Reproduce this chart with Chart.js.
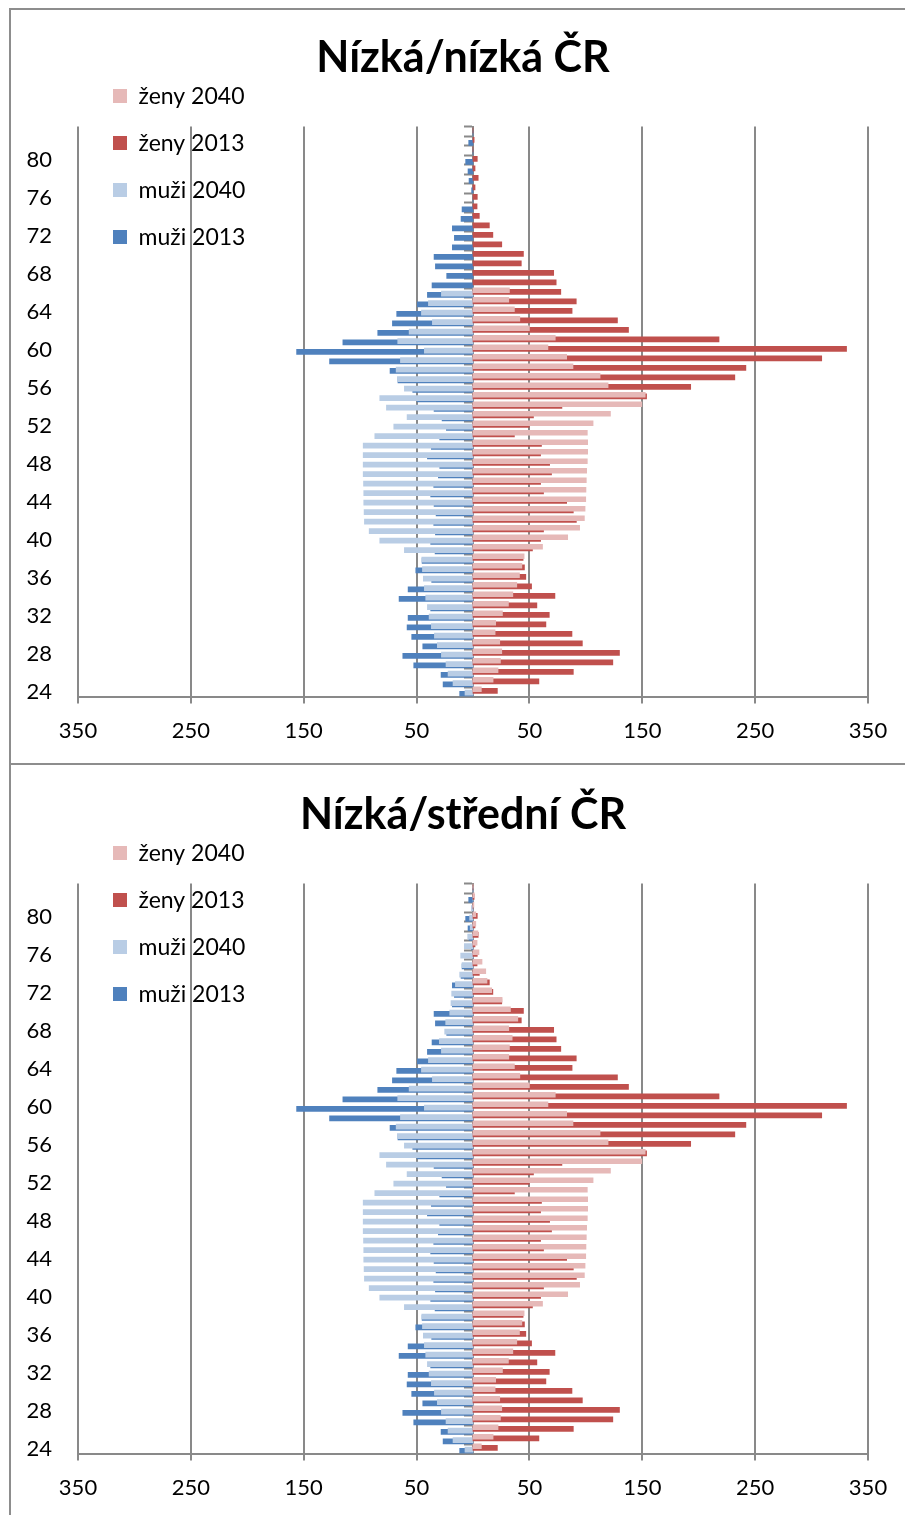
<!DOCTYPE html>
<html>
<head>
<meta charset="utf-8">
<script src="https://cdn.jsdelivr.net/npm/chart.js@4/dist/chart.umd.min.js"></script>
<style>
  html, body { margin: 0; padding: 0; background: #fff; overflow: hidden; }
  .frame { position: absolute; left: 9px; width: 930px; border: 2px solid #8d8d8d; box-sizing: border-box; background: #fff; }
  #frameLow { top: 8px; height: 757px; }
  #frameMid { top: 765px; height: 770px; border-top: none; padding-top: 2px; }
  canvas { display: block; }
</style>
</head>
<body>
<div class="frame" id="frameLow"><canvas id="chartLow" width="904" height="750"></canvas></div>
<div class="frame" id="frameMid"><canvas id="chartMid" width="904" height="750"></canvas></div>
<script>
  'use strict';

  // věk (zdola nahoru)
  const ages = [24, 25, 26, 27, 28, 29, 30, 31, 32, 33, 34, 35, 36, 37, 38, 39, 40, 41, 42, 43,
                44, 45, 46, 47, 48, 49, 50, 51, 52, 53, 54, 55, 56, 57, 58, 59, 60, 61, 62, 63,
                64, 65, 66, 67, 68, 69, 70, 71, 72, 73, 74, 75, 76, 77, 78, 79, 80, 81, 82, 83];
  const ageTicks = [24, 28, 32, 36, 40, 44, 48, 52, 56, 60, 64, 68, 72, 76, 80];
  const valueTicks = [-350, -250, -150, -50, 50, 150, 250, 350];

  // 2013 – společné pro obě varianty
  const men2013 = [11.8, 26.5, 28.3, 52.5, 62.2, 44.5, 54.3, 58.4, 57.5, 37.5,
                   65.5, 57.5, 36.6, 50.7, 45.1, 33.6, 37.5, 33.3, 34.8, 32.7,
                   34.5, 37.5, 34.8, 30.7, 29.5, 40.4, 36.9, 29.5, 23.6, 27.4,
                   34.5, 49.6, 53.4, 66.5, 73.5, 127.1, 156.3, 115.3, 84.4, 71.4,
                   67.6, 49.3, 40.4, 36.3, 23.3, 33.3, 34.5, 18.3, 16.5, 18.3,
                   10.6, 9.7, 0, 1.2, 3.5, 4.4, 6.5, 0, 3.8, 0];
  const women2013 = [21.6, 58.4, 88.9, 123.9, 129.8, 96.9, 87.7, 64.6, 67.6, 56.6,
                     72.6, 51.9, 46.8, 45.6, 44.4, 52.7, 59.9, 62.5, 91.6, 88.9,
                     83.0, 62.5, 59.9, 69.6, 67.9, 59.9, 60.7, 36.7, 49.8, 53.6,
                     78.8, 153.8, 192.9, 232.0, 241.8, 309.0, 331.0, 218.0, 137.8, 128.0,
                     87.8, 91.5, 77.8, 73.7, 71.5, 42.8, 44.7, 25.5, 17.6, 14.5,
                     5.6, 3.6, 3.8, 1.8, 4.6, 1.8, 3.8, 0, 1.0, 0];

  // 2040 – varianta nízká/nízká (bez věku 67+)
  const men2040Low = [7.1, 17.7, 22.1, 23.9, 28.0, 31.6, 34.2, 36.9, 38.9, 40.4,
                      41.9, 43.1, 44.0, 44.8, 45.4, 60.8, 82.6, 92.0, 96.2, 96.5,
                      96.8, 96.8, 97.0, 97.3, 97.3, 97.3, 97.3, 87.0, 70.2, 58.4,
                      76.7, 82.6, 60.8, 67.0, 68.1, 64.3, 43.1, 66.7, 56.6, 36.0,
                      45.7, 39.5, 28.0, null, null, null, null, null, null, null,
                      null, null, null, null, null, null, null, null, null, null];
  const women2040Low = [7.4, 17.8, 22.2, 24.3, 25.5, 23.7, 19.6, 20.1, 26.1, 31.4,
                        35.3, 38.8, 41.2, 43.3, 45.3, 61.6, 83.9, 94.5, 98.7, 99.3,
                        99.9, 100.1, 100.4, 100.7, 101.3, 101.6, 101.6, 101.3, 106.4, 121.8,
                        149.6, 152.6, 119.7, 112.6, 88.6, 83.0, 66.4, 72.9, 50.0, 41.5,
                        36.7, 31.7, 32.3, null, null, null, null, null, null, null,
                        null, null, null, null, null, null, null, null, null, null];

  // 2040 – varianta nízká/střední
  const men2040Mid = [7.1, 17.7, 22.1, 23.9, 28.0, 31.6, 34.2, 36.9, 38.9, 40.4,
                      41.9, 43.1, 44.0, 44.8, 45.4, 60.8, 82.6, 92.0, 96.2, 96.5,
                      96.8, 96.8, 97.0, 97.3, 97.3, 97.3, 97.3, 87.0, 70.2, 58.4,
                      76.7, 82.6, 60.8, 67.0, 68.1, 64.3, 43.1, 66.7, 56.6, 36.0,
                      45.7, 39.5, 28.0, 29.8, 25.1, 24.2, 20.6, 19.5, 18.9, 15.6,
                      11.8, 9.7, 10.9, 7.7, 4.7, 2.5, 3.0, 1.5, 0, 0];
  const women2040Mid = [7.4, 17.8, 22.2, 24.3, 25.5, 23.7, 19.6, 20.1, 26.1, 31.4,
                        35.3, 38.8, 41.2, 43.3, 45.3, 61.6, 83.9, 94.5, 98.7, 99.3,
                        99.9, 100.1, 100.4, 100.7, 101.3, 101.6, 101.6, 101.3, 106.4, 121.8,
                        149.6, 152.6, 119.7, 112.6, 88.6, 83.0, 66.4, 72.9, 50.0, 41.5,
                        36.7, 31.7, 32.3, 34.7, 31.7, 39.7, 33.2, 25.8, 16.6, 12.4,
                        11.3, 8.0, 5.3, 3.6, 4.4, 2.5, 2.5, 0.8, 1.2, 0];

  const PINK = '#E6B9B8';
  const RED = '#C0504D';
  const LIGHT_BLUE = '#B9CDE5';
  const BLUE = '#4F81BD';
  const GRID = '#898989';

  // překrytí řad v rámci jednoho věku (v jednotkách osy věku)
  const SERIES_SHIFT = { w40: 0.27, w13: 0.10, m40: -0.08, m13: -0.22 };
  // legenda leží v ploše grafu, vytažená nahoru pod nadpis
  const LEGEND_NUDGE = { x: 11, y: -66 };

  Chart.defaults.font.family = 'Lato, "Open Sans", sans-serif';
  Chart.defaults.color = '#000';

  const placeBlocks = {
    id: 'placeBlocks',
    afterLayout(chart) {
      // nadpis na střed celého plátna, ne jen plochy grafu
      if (chart.titleBlock) {
        chart.titleBlock.left = 0;
        chart.titleBlock.right = chart.width;
      }
      const lg = chart.legend;
      if (!lg) return;
      lg.left = chart.chartArea.left + LEGEND_NUDGE.x;
      lg.top = chart.chartArea.top + LEGEND_NUDGE.y;
      lg.bottom = chart.chartArea.bottom;
    }
  };

  function points(vals, sign, shift) {
    return ages
      .map((a, i) => ({ x: vals[i] == null ? null : sign * vals[i], y: a + shift }))
      .filter(p => p.x !== null);
  }

  function pyramid(canvasId, title, men2040, women2040) {
    const ctx = document.getElementById(canvasId).getContext('2d');
    return new Chart(ctx, {
      type: 'bar',
      data: {
        datasets: [
          { label: 'ženy 2040', data: points(women2040, 1, SERIES_SHIFT.w40), backgroundColor: PINK },
          { label: 'ženy 2013', data: points(women2013, 1, SERIES_SHIFT.w13), backgroundColor: RED },
          { label: 'muži 2040', data: points(men2040, -1, SERIES_SHIFT.m40), backgroundColor: LIGHT_BLUE },
          { label: 'muži 2013', data: points(men2013, -1, SERIES_SHIFT.m13), backgroundColor: BLUE }
        ]
      },
      options: {
        indexAxis: 'y',
        responsive: false,
        animation: false,
        datasets: { bar: { grouped: false, barThickness: 5, borderWidth: 0 } },
        layout: { padding: { left: 10, right: 47, top: 0, bottom: 2 } },
        plugins: {
          title: {
            display: true, text: title, color: '#000',
            font: { size: 43, weight: 'bold' },
            padding: { top: 22, bottom: 43 }
          },
          legend: {
            position: 'chartArea', align: 'start',
            labels: { boxWidth: 14, boxHeight: 14, padding: 24, font: { size: 23 }, color: '#000' }
          },
          tooltip: { enabled: false }
        },
        scales: {
          x: {
            type: 'linear', min: -350, max: 350,
            afterBuildTicks: s => { s.ticks = valueTicks.map(v => ({ value: v })); },
            ticks: { callback: v => Math.abs(v), font: { size: 22 }, color: '#000', padding: 14, maxRotation: 0, autoSkip: false },
            grid: { color: GRID, lineWidth: 2, tickLength: 7, tickColor: GRID, tickWidth: 2 },
            border: { color: GRID, width: 2 }
          },
          y: {
            type: 'linear', position: 'left', min: 23.5, max: 83.5, offset: false,
            afterBuildTicks: s => { s.ticks = ageTicks.map(v => ({ value: v })); },
            afterFit: s => { s.width = 57; },
            ticks: { font: { size: 22 }, color: '#000', padding: 26, autoSkip: false },
            grid: { display: false, drawTicks: false, offset: false },
            border: { display: false }
          },
          // svislá osa v nule s čárkami mezi věky
          yMid: {
            type: 'linear', axis: 'y', position: { x: 0 }, min: 23.5, max: 83.5, offset: false,
            afterBuildTicks: s => {
              s.ticks = ages.map(a => ({ value: a - 0.5 })).concat([{ value: ages[ages.length - 1] + 0.5 }]);
            },
            ticks: { display: false },
            grid: { drawOnChartArea: false, drawTicks: true, tickLength: 8, tickColor: GRID, tickWidth: 2, offset: false },
            border: { color: GRID, width: 2 }
          }
        }
      },
      plugins: [placeBlocks]
    });
  }

  pyramid('chartLow', 'Nízká/nízká ČR', men2040Low, women2040Low);
  pyramid('chartMid', 'Nízká/střední ČR', men2040Mid, women2040Mid);
</script>
</body>
</html>
